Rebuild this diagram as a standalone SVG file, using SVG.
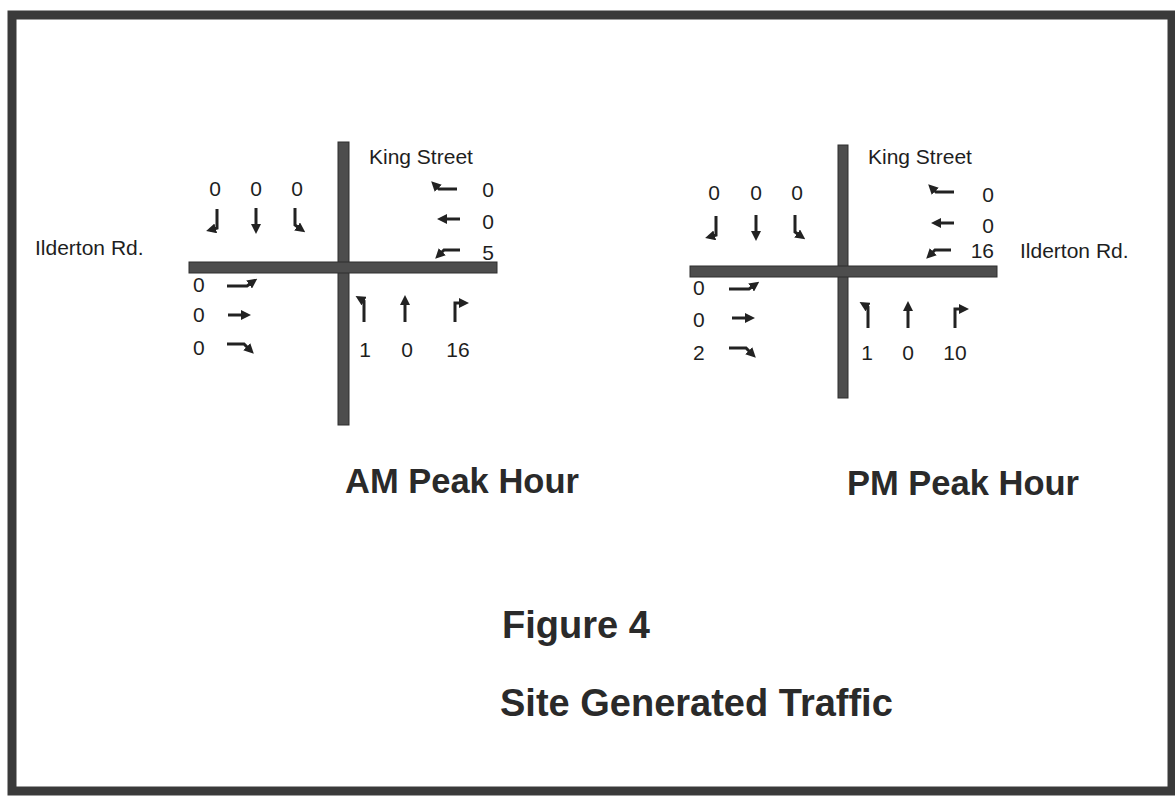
<svg xmlns="http://www.w3.org/2000/svg" width="1175" height="803" viewBox="0 0 1175 803">
<style>
.lbl{font-family:"Liberation Sans",Arial,sans-serif;font-size:21px;fill:#1e1e1e}
.num{font-family:"Liberation Sans",Arial,sans-serif;font-size:21px;fill:#1e1e1e}
.ttl{font-family:"Liberation Sans",Arial,sans-serif;font-size:34.5px;font-weight:bold;fill:#2a2a2a}
.fig{font-family:"Liberation Sans",Arial,sans-serif;font-size:38px;font-weight:bold;fill:#2a2a2a}
.road{fill:#4d4d4d;stroke:#2e2e2e;stroke-width:1}
.arr{fill:none;stroke:#222;stroke-width:3;marker-end:url(#ah)}
</style>
<defs>
<marker id="ah" viewBox="0 0 10 10" refX="6" refY="5" markerUnits="userSpaceOnUse" markerWidth="10" markerHeight="10" orient="auto">
<path d="M0,0 L10,5 L0,10 z" fill="#222"/>
</marker>
<!-- southbound -->
<g id="sbR"><path class="arr" d="M2,-12 V7 L-5,9"/></g>
<g id="sbT"><path class="arr" d="M0,-12 V10"/></g>
<g id="sbL"><path class="arr" d="M-2,-12 V5 L5,10"/></g>
<!-- westbound -->
<g id="wbR"><path class="arr" d="M12,1 H-6 L-11,-4"/></g>
<g id="wbT"><path class="arr" d="M9,0 H-10"/></g>
<g id="wbL"><path class="arr" d="M11,-2 H-5 L-11,4"/></g>
<!-- eastbound -->
<g id="ebL"><path class="arr" d="M-14,2 H6 L13,-3"/></g>
<g id="ebT"><path class="arr" d="M-10,0 H9"/></g>
<g id="ebR"><path class="arr" d="M-14,-3 H3 L10,4"/></g>
<!-- northbound -->
<g id="nbL"><path class="arr" d="M1,12 V-9 L-4,-12"/></g>
<g id="nbT"><path class="arr" d="M0,12 V-11"/></g>
<g id="nbR"><path class="arr" d="M-4,12 V-7 H6"/></g>
</defs>
<rect x="0" y="0" width="1175" height="803" fill="#ffffff"/>
<rect id="frame" x="12" y="15" width="1160" height="776" fill="none" stroke="#3a3a3a" stroke-width="9"/>

<g id="am-intersection">
<rect class="road" x="338" y="142" width="11" height="283"/>
<rect class="road" x="189" y="262" width="308" height="11"/>
</g>
<g id="am-labels">
<text class="lbl" x="369" y="164">King Street</text>
<text class="lbl" x="35" y="255">Ilderton Rd.</text>
</g>
<g id="am-sb">
<text class="num" x="215" y="196" text-anchor="middle">0</text>
<text class="num" x="256" y="196" text-anchor="middle">0</text>
<text class="num" x="297" y="196" text-anchor="middle">0</text>
<use href="#sbR" x="215" y="221"/>
<use href="#sbT" x="256" y="220"/>
<use href="#sbL" x="297" y="220"/>
</g>
<g id="am-wb">
<text class="num" x="494" y="197" text-anchor="end">0</text>
<text class="num" x="494" y="229" text-anchor="end">0</text>
<text class="num" x="494" y="260" text-anchor="end">5</text>
<use href="#wbR" x="445" y="188"/>
<use href="#wbT" x="451" y="219"/>
<use href="#wbL" x="449" y="252"/>
</g>
<g id="am-eb">
<text class="num" x="193" y="292">0</text>
<text class="num" x="193" y="322">0</text>
<text class="num" x="193" y="355">0</text>
<use href="#ebL" x="241" y="284"/>
<use href="#ebT" x="238" y="315"/>
<use href="#ebR" x="241" y="347"/>
</g>
<g id="am-nb">
<use href="#nbL" x="363" y="310"/>
<use href="#nbT" x="405" y="310"/>
<use href="#nbR" x="459" y="310"/>
<text class="num" x="365" y="357" text-anchor="middle">1</text>
<text class="num" x="407" y="357" text-anchor="middle">0</text>
<text class="num" x="458" y="357" text-anchor="middle">16</text>
</g>

<g id="pm-intersection">
<rect class="road" x="838" y="145" width="10" height="253"/>
<rect class="road" x="690" y="266" width="307" height="11"/>
</g>
<g id="pm-labels">
<text class="lbl" x="868" y="164">King Street</text>
<text class="lbl" x="1020" y="258">Ilderton Rd.</text>
</g>
<g id="pm-sb">
<text class="num" x="714" y="200" text-anchor="middle">0</text>
<text class="num" x="756" y="200" text-anchor="middle">0</text>
<text class="num" x="797" y="200" text-anchor="middle">0</text>
<use href="#sbR" x="714" y="228"/>
<use href="#sbT" x="756" y="227"/>
<use href="#sbL" x="797" y="227"/>
</g>
<g id="pm-wb">
<text class="num" x="994" y="202" text-anchor="end">0</text>
<text class="num" x="994" y="233" text-anchor="end">0</text>
<text class="num" x="994" y="258" text-anchor="end">16</text>
<use href="#wbR" x="942" y="191"/>
<use href="#wbT" x="945" y="223"/>
<use href="#wbL" x="940" y="252"/>
</g>
<g id="pm-eb">
<text class="num" x="693" y="295">0</text>
<text class="num" x="693" y="327">0</text>
<text class="num" x="693" y="360">2</text>
<use href="#ebL" x="743" y="287"/>
<use href="#ebT" x="742" y="318"/>
<use href="#ebR" x="743" y="351"/>
</g>
<g id="pm-nb">
<use href="#nbL" x="867" y="316"/>
<use href="#nbT" x="908" y="316"/>
<use href="#nbR" x="959" y="316"/>
<text class="num" x="867" y="360" text-anchor="middle">1</text>
<text class="num" x="908" y="360" text-anchor="middle">0</text>
<text class="num" x="955" y="360" text-anchor="middle">10</text>
</g>

<g id="titles">
<text class="ttl" x="345" y="493">AM Peak Hour</text>
<text class="ttl" x="847" y="495">PM Peak Hour</text>
<text class="fig" x="502" y="638">Figure 4</text>
<text class="fig" x="500" y="716">Site Generated Traffic</text>
</g>
</svg>
